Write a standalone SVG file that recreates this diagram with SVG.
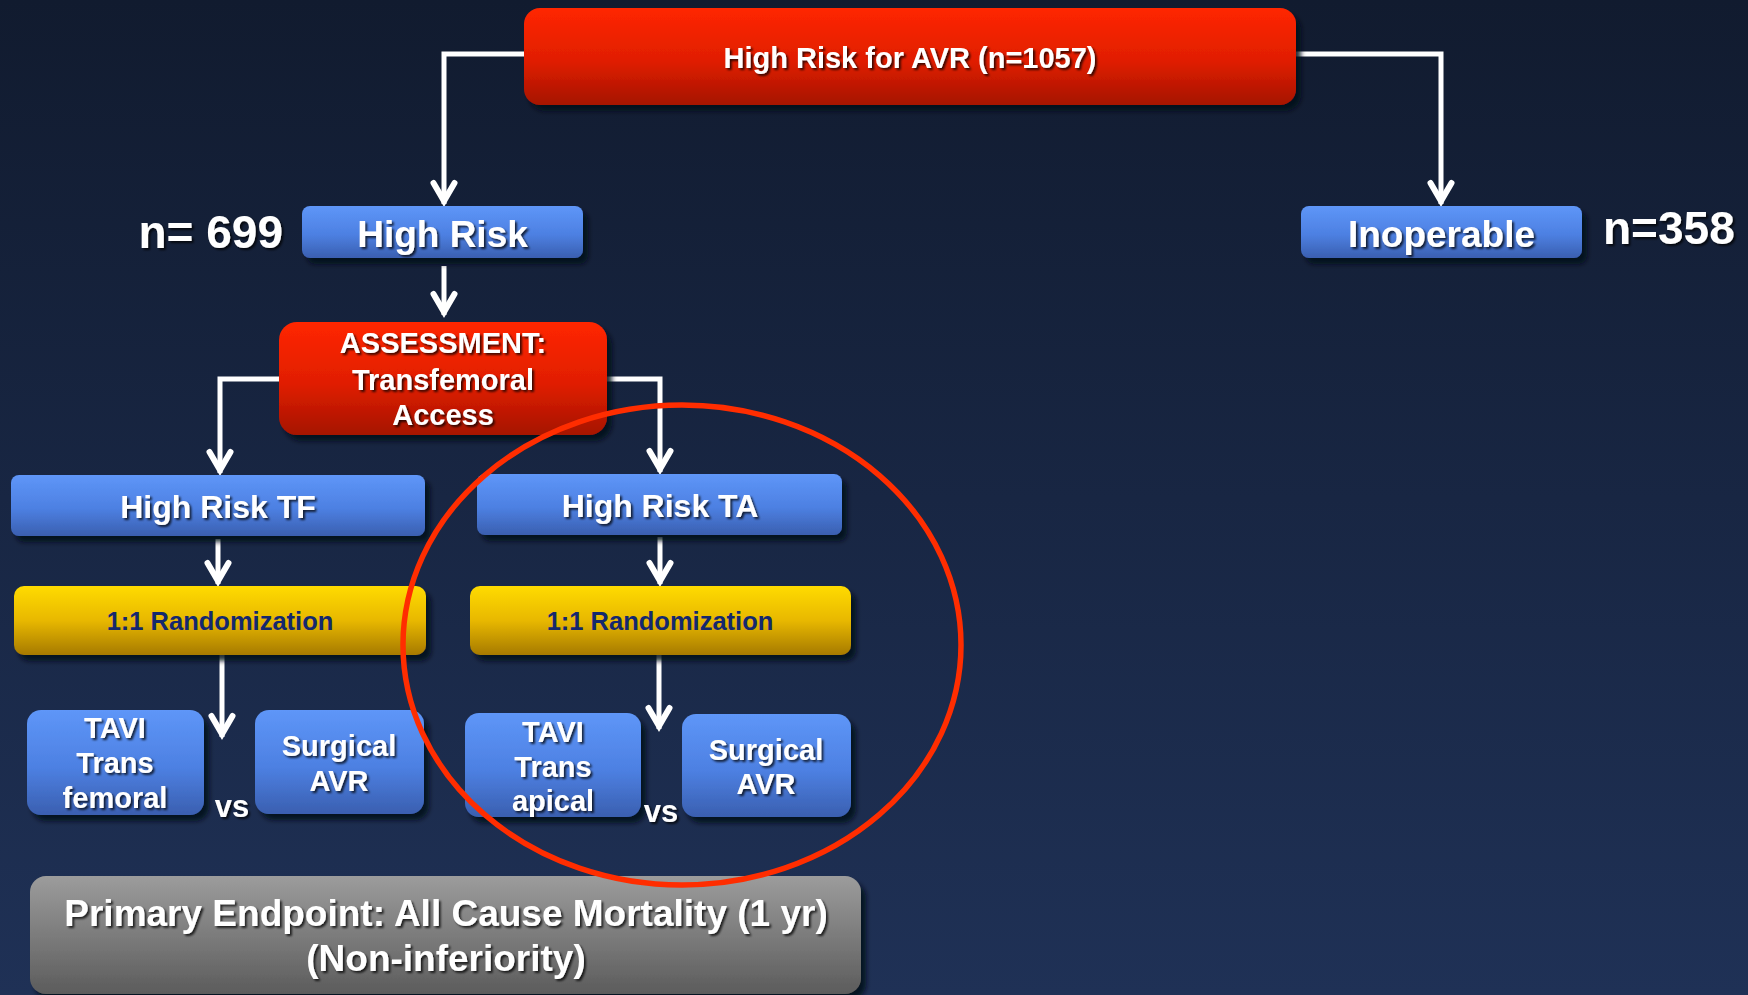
<svg xmlns="http://www.w3.org/2000/svg" width="1748" height="995" viewBox="0 0 1748 995">
<defs>
<linearGradient id="bg" x1="0" y1="0" x2="0" y2="1">
<stop offset="0" stop-color="#111b2f"/>
<stop offset="0.5" stop-color="#182643"/>
<stop offset="1" stop-color="#1f3156"/>
</linearGradient>
<linearGradient id="red" x1="0" y1="0" x2="0" y2="1">
<stop offset="0" stop-color="#ff2600"/>
<stop offset="0.55" stop-color="#e01e00"/>
<stop offset="1" stop-color="#a51300"/>
</linearGradient>
<linearGradient id="blue" x1="0" y1="0" x2="0" y2="1">
<stop offset="0" stop-color="#5e96f8"/>
<stop offset="0.55" stop-color="#4d80e2"/>
<stop offset="1" stop-color="#3a5fb0"/>
</linearGradient>
<linearGradient id="yellow" x1="0" y1="0" x2="0" y2="1">
<stop offset="0" stop-color="#ffdb00"/>
<stop offset="0.5" stop-color="#e8b800"/>
<stop offset="1" stop-color="#a67a00"/>
</linearGradient>
<linearGradient id="gray" x1="0" y1="0" x2="0" y2="1">
<stop offset="0" stop-color="#9c9c9c"/>
<stop offset="1" stop-color="#5c5c5c"/>
</linearGradient>
<filter id="box" x="-10%" y="-10%" width="125%" height="130%">
<feDropShadow dx="5" dy="6" stdDeviation="2.5" flood-color="#050a14" flood-opacity="0.85"/>
</filter>
<filter id="ts" x="-10%" y="-20%" width="120%" height="150%">
<feDropShadow dx="2" dy="2" stdDeviation="1" flood-color="#000" flood-opacity="0.75"/>
</filter>
<marker id="arr" markerUnits="userSpaceOnUse" markerWidth="40" markerHeight="40" viewBox="-30 -20 40 40" refX="0" refY="0" orient="auto" overflow="visible">
<path d="M-21,-10.5 L-3,0 L-21,10.5" fill="none" stroke="#fff" stroke-width="6" stroke-linejoin="miter" stroke-linecap="round"/>
</marker>
<style>
.t{fill:#fff;font-family:"Liberation Sans",Arial,sans-serif;font-weight:bold;text-anchor:middle;filter:url(#ts)}
.n{fill:#fff;font-family:"Liberation Sans",Arial,sans-serif;font-weight:bold;font-size:46px;filter:url(#ts)}
.r{fill:#14286e;font-family:"Liberation Sans",Arial,sans-serif;font-weight:bold;font-size:25.5px;text-anchor:middle}
.c{fill:none;stroke:#fff;stroke-width:5;marker-end:url(#arr)}
.bx{filter:url(#box)}
</style>
</defs>
<rect x="0" y="0" width="1748" height="995" fill="url(#bg)"/>

<g id="connectors">
<path class="c" d="M524,54 H444 V204"/>
<path class="c" d="M1296,54 H1441 V204"/>
<path class="c" d="M444,266 V315"/>
<path class="c" d="M279,379 H220 V473"/>
<path class="c" d="M607,379 H660 V472"/>
<path class="c" d="M218,539 V584"/>
<path class="c" d="M660,537 V584"/>
<path class="c" d="M222,655 V737"/>
<path class="c" d="M659,655 V729"/>
</g>

<g id="top">
<rect class="bx" x="524" y="8" width="772" height="97" rx="16" fill="url(#red)"/>
<text class="t" x="910" y="68" font-size="29">High Risk for AVR (n=1057)</text>
</g>

<g id="highrisk">
<rect class="bx" x="302" y="206" width="281" height="52" rx="8" fill="url(#blue)"/>
<text class="t" x="442.5" y="247" font-size="37">High Risk</text>
</g>
<g id="n699"><text class="n" x="283" y="248" text-anchor="end">n= 699</text></g>

<g id="inoperable">
<rect class="bx" x="1301" y="206" width="281" height="52" rx="8" fill="url(#blue)"/>
<text class="t" x="1441.5" y="247" font-size="37">Inoperable</text>
</g>
<g id="n358"><text class="n" x="1603" y="244">n=358</text></g>

<g id="assessment">
<rect class="bx" x="279" y="322" width="328" height="113" rx="18" fill="url(#red)"/>
<text class="t" x="443" y="353" font-size="29">ASSESSMENT:</text>
<text class="t" x="443" y="390" font-size="29">Transfemoral</text>
<text class="t" x="443" y="425" font-size="29">Access</text>
</g>

<g id="hrtf">
<rect class="bx" x="11" y="475" width="414" height="61" rx="8" fill="url(#blue)"/>
<text class="t" x="218" y="518" font-size="32">High Risk TF</text>
</g>
<g id="hrta">
<rect class="bx" x="477" y="474" width="365" height="61" rx="8" fill="url(#blue)"/>
<text class="t" x="660" y="517" font-size="32">High Risk TA</text>
</g>

<g id="randtf">
<rect class="bx" x="14" y="586" width="412" height="69" rx="10" fill="url(#yellow)"/>
<text class="r" x="220" y="630">1:1 Randomization</text>
</g>
<g id="randta">
<rect class="bx" x="470" y="586" width="381" height="69" rx="10" fill="url(#yellow)"/>
<text class="r" x="660" y="630">1:1 Randomization</text>
</g>

<g id="tavitf">
<rect class="bx" x="27" y="710" width="177" height="105" rx="14" fill="url(#blue)"/>
<text class="t" x="115" y="738" font-size="29">TAVI</text>
<text class="t" x="115" y="773" font-size="29">Trans</text>
<text class="t" x="115" y="808" font-size="29">femoral</text>
</g>
<g id="surgtf">
<rect class="bx" x="255" y="710" width="169" height="104" rx="14" fill="url(#blue)"/>
<text class="t" x="339" y="756" font-size="29">Surgical</text>
<text class="t" x="339" y="791" font-size="29">AVR</text>
</g>
<g id="vstf"><text class="t" x="232" y="817" font-size="31">vs</text></g>

<g id="tavita">
<rect class="bx" x="465" y="713" width="176" height="104" rx="14" fill="url(#blue)"/>
<text class="t" x="553" y="742" font-size="29">TAVI</text>
<text class="t" x="553" y="777" font-size="29">Trans</text>
<text class="t" x="553" y="811" font-size="29">apical</text>
</g>
<g id="surgta">
<rect class="bx" x="682" y="714" width="169" height="103" rx="14" fill="url(#blue)"/>
<text class="t" x="766" y="760" font-size="29">Surgical</text>
<text class="t" x="766" y="794" font-size="29">AVR</text>
</g>
<g id="vsta"><text class="t" x="661" y="822" font-size="31">vs</text></g>

<g id="endpoint">
<rect class="bx" x="30" y="876" width="831" height="118" rx="16" fill="url(#gray)"/>
<text class="t" x="446" y="926" font-size="37">Primary Endpoint: All Cause Mortality (1 yr)</text>
<text class="t" x="446" y="971" font-size="37">(Non-inferiority)</text>
</g>

<g id="highlight">
<ellipse cx="682" cy="645" rx="279" ry="240" fill="none" stroke="#ff2d00" stroke-width="5.5"/>
</g>
</svg>
